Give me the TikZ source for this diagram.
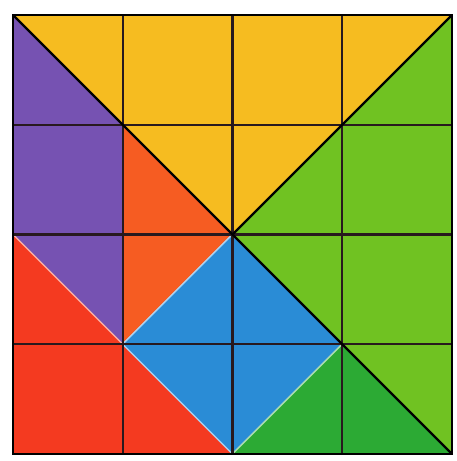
\documentclass[tikz,border=0pt]{standalone}
\usepackage{xcolor}
\usepackage{tikz}
\usetikzlibrary{backgrounds}
\definecolor{tanyellow}{RGB}{246,188,32}
\definecolor{tanpurple}{RGB}{118,82,178}
\definecolor{tanorange}{RGB}{246,92,34}
\definecolor{tanred}    {RGB}{244,58,32}
\definecolor{tanblue}   {RGB}{42,140,214}
\definecolor{tanlime}   {RGB}{112,194,34}
\definecolor{tangreen}  {RGB}{44,170,52}
\definecolor{gridgray}  {RGB}{40,25,30}

\begin{document}
\begin{tikzpicture}[
      x=2.195cm, y=2.195cm,
      piece/.style={fill=#1, draw=white!60!#1, line width=0.8pt, line join=round},
      gridline/.style={draw=gridgray, line width=1.2pt},
      cutline/.style={draw=black, line width=1.3pt},
    ]
    \useasboundingbox (-0.118,-0.064) rectangle (4.037,4.136);
    \fill[white] (-0.118,-0.064) rectangle (4.037,4.136);

    % ── PIECES ──────────────────────────────────────────────────
    \path[piece=tanyellow] (0,4) -- (4,4) -- (2,2) -- cycle;
    \path[piece=tanlime]   (4,4) -- (4,0) -- (2,2) -- cycle;
    \path[piece=tanpurple] (0,4) -- (1,3) -- (1,1) -- (0,2) -- cycle;
    \path[piece=tanorange] (1,3) -- (2,2) -- (1,1) -- cycle;
    \path[piece=tanred]    (0,2) -- (0,0) -- (2,0) -- cycle;
    \path[piece=tanblue]   (2,2) -- (3,1) -- (2,0) -- (1,1) -- cycle;
    \path[piece=tangreen]  (2,0) -- (3,1) -- (4,0) -- cycle;

    % ── GRID AND CUTS ───────────────────────────────────────────
    \foreach \i in {1,2,3} {
      \draw[gridline] (\i,0) -- (\i,4);
      \draw[gridline] (0,\i) -- (4,\i);
    }
    \draw[cutline] (0,4) -- (4,0);
    \draw[cutline] (4,4) -- (2,2);
    \draw[line width=1.6pt] (0,0) rectangle (4,4);

\end{tikzpicture}
\end{document}
